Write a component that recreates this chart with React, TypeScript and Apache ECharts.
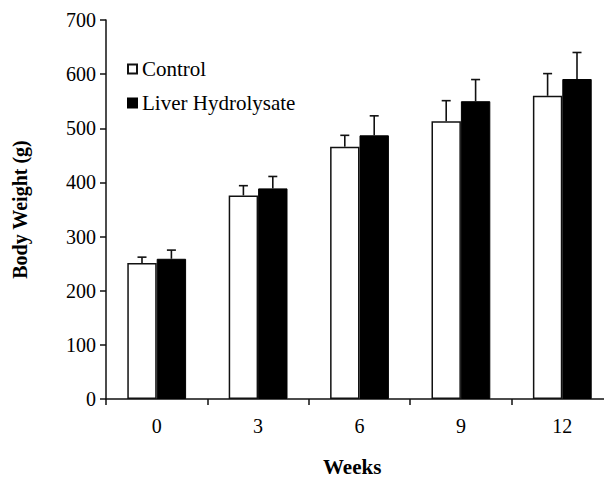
import React, { useEffect, useRef } from "react";
import * as echarts from "echarts";

const weeks = ["0", "3", "6", "9", "12"];
const controlMean = [251, 376, 466, 513, 560];
const controlErr = [11, 18, 21, 38, 41];
const liverMean = [259, 389, 487, 550, 591];
const liverErr = [16, 22, 36, 40, 49];
const yTicks = [0, 100, 200, 300, 400, 500, 600, 700];

const FONT = "Liberation Serif";
const BAR_GAP_CAT = 0.42;

function errorSeries(name: string, means: number[], errs: number[], side: number) {
  return {
    type: "custom",
    name: name + " err",
    z: 10,
    silent: true,
    data: means.map((m, i) => [i, m, m + errs[i]]),
    encode: { x: 0, y: [1, 2] },
    renderItem: (params: any, api: any) => {
      const i = api.value(0);
      const top = api.coord([i, api.value(2)]);
      const base = api.coord([i, api.value(1)]);
      const band = api.size([1, 0])[0];
      const bw = (band * (1 - BAR_GAP_CAT)) / 2;
      const x = top[0] + side * bw / 2;
      const cap = 4.5;
      const st = { stroke: "#111", lineWidth: 1.6 };
      return {
        type: "group",
        children: [
          { type: "line", shape: { x1: x, y1: base[1], x2: x, y2: top[1] }, style: st },
          { type: "line", shape: { x1: x - cap, y1: top[1], x2: x + cap, y2: top[1] }, style: st },
        ],
      };
    },
  };
}

export default function App() {
  const ref = useRef<HTMLDivElement>(null);
  useEffect(() => {
    if (!ref.current) return;
    const chart = echarts.init(ref.current, null, { renderer: "svg" });
    chart.setOption({
      animation: false,
      backgroundColor: "#fff",
      textStyle: { fontFamily: FONT, color: "#000" },
      grid: { left: 106, top: 20, width: 507, height: 379, outerBoundsMode: "none", containLabel: false },
      legend: {
        orient: "vertical",
        left: 122,
        top: 53,
        itemWidth: 9,
        itemHeight: 9,
        itemGap: 12,
        textStyle: { fontFamily: FONT, fontSize: 21, color: "#000", lineHeight: 22 },
        data: [
          { name: "Control", icon: "rect" },
          { name: "Liver Hydrolysate", icon: "rect" },
        ],
      },
      xAxis: {
        type: "category",
        data: weeks,
        axisLine: { lineStyle: { color: "#111", width: 1.5 } },
        axisTick: { show: true, length: 6, inside: false, lineStyle: { color: "#111", width: 1.5 } },
        axisLabel: { fontFamily: FONT, fontSize: 20, color: "#000", margin: 17 },
      },
      yAxis: {
        type: "value",
        min: 0,
        max: 700,
        interval: 100,
        name: "Body Weight (g)",
        nameLocation: "middle",
        nameGap: 76,
        nameTextStyle: { fontFamily: FONT, fontSize: 20, fontWeight: "bold", color: "#000" },
        splitLine: { show: false },
        axisLine: { show: true, lineStyle: { color: "#111", width: 1.5 } },
        axisTick: { show: true, length: 6, lineStyle: { color: "#111", width: 1.5 } },
        axisLabel: {
          fontFamily: FONT,
          fontSize: 20,
          color: "#000",
          margin: 10,
          formatter: (v: number) => (yTicks.includes(v) ? String(v) : ""),
        },
      },
      graphic: [
        {
          type: "text",
          left: 353 - 30,
          top: 456,
          style: { text: "Weeks", fontFamily: FONT, fontSize: 21, fontWeight: "bold", fill: "#000" },
        },
      ],
      series: [
        {
          type: "bar",
          name: "Control",
          data: controlMean,
          barGap: "0%",
          barCategoryGap: BAR_GAP_CAT * 100 + "%",
          itemStyle: { color: "#fff", borderColor: "#111", borderWidth: 1.5 },
        },
        {
          type: "bar",
          name: "Liver Hydrolysate",
          data: liverMean,
          barGap: "0%",
          barCategoryGap: BAR_GAP_CAT * 100 + "%",
          itemStyle: { color: "#000", borderColor: "#000", borderWidth: 1 },
        },
        errorSeries("Control", controlMean, controlErr, -1),
        errorSeries("Liver Hydrolysate", liverMean, liverErr, 1),
      ],
    });
    return () => chart.dispose();
  }, []);
  return (
    <div
      ref={ref}
      style={{ position: "absolute", left: 0, top: 0, width: 604, height: 477, background: "#fff" }}
    />
  );
}
